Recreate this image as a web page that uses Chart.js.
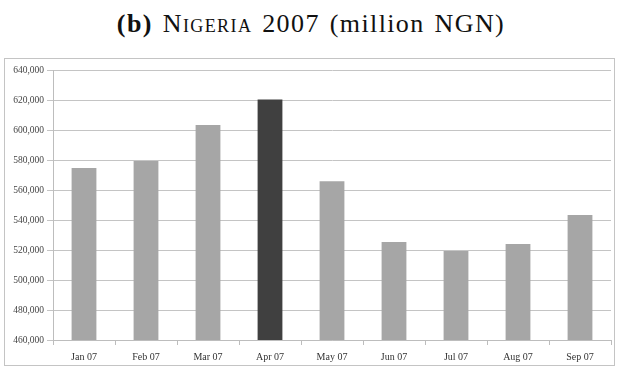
<!DOCTYPE html>
<html>
<head>
<meta charset="utf-8">
<script src="https://cdn.jsdelivr.net/npm/chart.js@4"></script>
<style>
  html, body { margin: 0; padding: 0; background: #fff; width: 636px; height: 375px; overflow: hidden; }
  #title { position: absolute; left: 0; top: 9px; width: 622px; text-align: center; white-space: nowrap;
           font-family: "Liberation Serif", "DejaVu Serif", serif; font-size: 26px; letter-spacing: 1.4px;
           word-spacing: 2px; color: #111; }
  #title .sc { font-variant: small-caps; }
  #box { position: absolute; left: 4px; top: 58px; width: 609px; height: 306px; border: 1px solid #c4c4c4; }
  canvas { display: block; }
</style>
</head>
<body>
<div id="title"><b>(b)</b> <span class="sc">Nigeria</span> 2007 (million NGN)</div>
<div id="box"><canvas id="c" width="609" height="306"></canvas></div>
<script>
const categories = ["Jan 07", "Feb 07", "Mar 07", "Apr 07", "May 07", "Jun 07", "Jul 07", "Aug 07", "Sep 07"];
const values = [574700, 579300, 603300, 620400, 565800, 525300, 519300, 524000, 543300];
const highlightLabel = "Apr 07";
const yMin = 460000, yMax = 640000, yStep = 20000;

const barColors = categories.map(c => c === highlightLabel ? "#404040" : "#a6a6a6");
const fontFam = "'Liberation Serif', 'DejaVu Serif', serif";

new Chart(document.getElementById("c"), {
  type: "bar",
  data: {
    labels: categories,
    datasets: [{ data: values, backgroundColor: barColors, borderWidth: 0,
                 categoryPercentage: 1.0, barPercentage: 0.4 }]
  },
  options: {
    responsive: false,
    animation: false,
    devicePixelRatio: 1,
    layout: { padding: { top: 11, right: 3, left: 0, bottom: 0 } },
    plugins: { legend: { display: false }, tooltip: { enabled: false } },
    scales: {
      x: {
        offset: true,
        grid: { offset: true, drawOnChartArea: false, drawTicks: true, tickLength: 5, color: "#bdbdbd" },
        border: { color: "#bdbdbd" },
        ticks: { font: { family: fontFam, size: 10 }, color: "#333", padding: 6, maxRotation: 0 },
        afterFit: s => { s.height = 25; }
      },
      y: {
        min: yMin, max: yMax,
        grid: { color: "#c4c4c4", tickLength: 6 },
        border: { color: "#bdbdbd" },
        ticks: { stepSize: yStep, font: { family: fontFam, size: 9.5 }, color: "#444", padding: 3,
                 callback: v => v.toLocaleString("en-US") },
        afterFit: s => { s.width = 48; }
      }
    }
  }
});
</script>
</body>
</html>
